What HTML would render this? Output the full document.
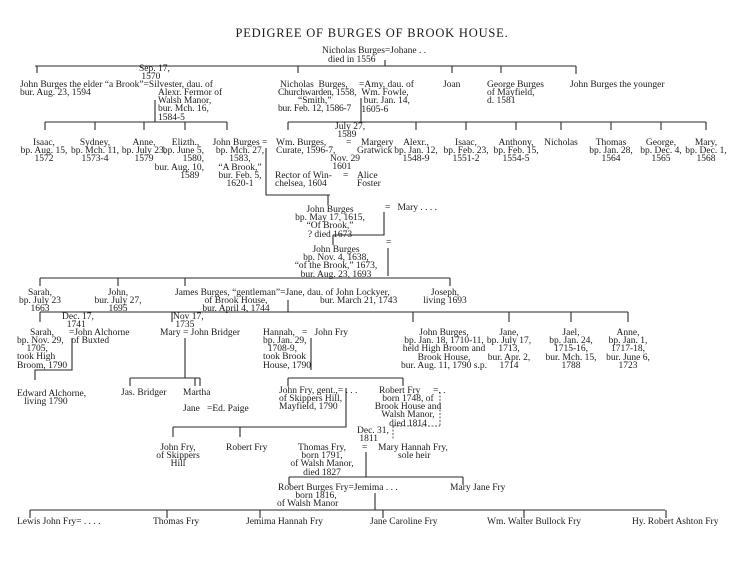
<!DOCTYPE html>
<html><head><meta charset="utf-8"><style>
body{margin:0;background:#fff}
#p{position:relative;width:750px;height:588px;overflow:hidden;background:#fff;font-family:"Liberation Serif",serif;font-size:9.5px;line-height:8.2px;color:#1a1a1a}
.t{position:absolute;white-space:nowrap}
.c{position:absolute;white-space:nowrap;transform:translateX(-50%);text-align:center}
svg{position:absolute;left:0;top:0}
</style></head><body><div id="p">
<svg width="750" height="588" stroke="#2a2a2a" stroke-width="1.1" fill="none">
<path d="M35 66H576M37 66V73M298 66V73M452 66V73M501 66V73M576 66V74M385 60V66"/>
<path d="M45 122H227M45 122V130M95 122V130M144 122V130M185 122V130M227 122V130M155 100V122"/>
<path d="M288 122H706M288 122V130M416 122V130M466 122V130M516 122V130M561 122V130M611 122V130M661 122V130M706 122V130M361 98V122"/>
<path d="M266 148V195H330M328 195V205"/>
<path d="M384 212V235H333M333 235V245M388 248V276"/>
<path d="M40 278H450M40 278V286M118 278V286M185 278V286M450 278V286"/>
<path d="M40 312H628M40 312V322M172 312V322M288 300V312M413 312V322M509 312V322M571 312V322M628 312V322"/>
<path d="M72 338V370H35V380M185 338V378M130 378H200M130 378V386M195 378V386M200 378V386"/>
<path d="M311 338V370M288 378H403M288 378V386M403 378V386"/>
<path d="M346 388V427H173M173 427V437M240 427V437"/>
<path d="M440 392V426M393 426H440M393 426V440" stroke-dasharray="2,1.5" stroke-width="0.8"/>
<path d="M366 452V477M289 477H463M289 477V485M463 477V485"/>
<path d="M375 493V510M30 510H665M30 510V518M167 510V518M260 510V518M383 510V518M524 510V518M666 510V518"/>
</svg>
<div class="c" style="left:372px;top:27px;font-size:12.5px;line-height:13px;letter-spacing:0.8px">PEDIGREE OF BURGES OF BROOK HOUSE.</div>
<div class="t" style="left:322px;top:47px">Nicholas Burges=Johane . .</div>
<div class="t" style="left:328px;top:56px">died in 1556</div>

<div class="t" style="left:139px;top:65px">Sep. 17,<br>&nbsp;1570</div>
<div class="t" style="left:20px;top:81px">John Burges the elder “a Brook”=Silvester, dau. of<br>bur. Aug. 23, 1594</div>
<div class="t" style="left:158px;top:89px">Alexr. Fermor of<br>Walsh Manor,<br>bur. Mch. 16,<br>1584-5</div>
<div class="t" style="left:280px;top:81px">Nicholas&nbsp; Burges,</div>
<div class="t" style="left:278px;top:89px;letter-spacing:-0.2px">Churchwarden, 1558,</div>
<div class="t" style="left:298px;top:97px">“Smith,”</div>
<div class="t" style="left:278px;top:105px;letter-spacing:-0.2px">bur. Feb. 12, 1586-7</div>
<div class="t" style="left:359px;top:81px">=Amy, dau. of<br>&nbsp;Wm. Fowle,<br>&nbsp;&nbsp;bur. Jan. 14,<br>&nbsp;1605-6</div>
<div class="t" style="left:443px;top:81px">Joan</div>
<div class="t" style="left:487px;top:81px">George Burges<br>of Mayfield,<br>d. 1581</div>
<div class="t" style="left:570px;top:81px">John Burges the younger</div>

<div class="c" style="left:44px;top:139px">Isaac,<br>bp. Aug. 15,<br>1572</div>
<div class="c" style="left:95px;top:139px">Sydney,<br>bp. Mch. 11,<br>1573-4</div>
<div class="c" style="left:144px;top:139px">Anne,<br>bp. July 23,<br>1579</div>
<div class="t" style="right:546px;top:139px;text-align:right">Elizth.,&nbsp;&nbsp;<br>bp. June 5,<br>1580,<br>bur. Aug. 10,<br>1589&nbsp;&nbsp;</div>
<div class="c" style="left:240px;top:139px">John Burges =<br>bp. Mch. 27,<br>1583,<br>“A Brook,”<br>bur. Feb. 5,<br>1620-1</div>
<div class="t" style="left:335px;top:123px">July 27,<br>&nbsp;1589</div>
<div class="t" style="left:276px;top:139px">Wm. Burges,<br>Curate, 1596-7,</div>
<div class="t" style="left:346px;top:139px">=</div>
<div class="t" style="left:361px;top:139px">Margery</div>
<div class="t" style="left:357px;top:147px">Gratwick</div>
<div class="t" style="left:330px;top:155px">Nov. 29<br>&nbsp;1601</div>
<div class="t" style="left:275px;top:172px">Rector of Win-<br>chelsea, 1604</div>
<div class="t" style="left:343px;top:172px">=</div>
<div class="t" style="left:357px;top:172px">Alice<br>Foster</div>
<div class="c" style="left:416px;top:139px">Alexr.,<br>bp. Jan. 12,<br>1548-9</div>
<div class="c" style="left:466px;top:139px">Isaac,<br>bp. Feb. 23,<br>1551-2</div>
<div class="c" style="left:516px;top:139px">Anthony,<br>bp. Feb. 15,<br>1554-5</div>
<div class="c" style="left:561px;top:139px">Nicholas</div>
<div class="c" style="left:611px;top:139px">Thomas<br>bp. Jan. 28,<br>1564</div>
<div class="c" style="left:661px;top:139px">George,<br>bp. Dec. 4,<br>1565</div>
<div class="c" style="left:706px;top:139px">Mary,<br>bp. Dec. 1,<br>1568</div>

<div class="c" style="left:330px;top:206px">John Burges<br>bp. May 17, 1615,<br>“Of Brook,”<br>? died 1673</div>
<div class="t" style="left:385px;top:204px">=&nbsp;&nbsp; Mary . . . .</div>
<div class="c" style="left:336px;top:246px">John Burges<br>bp. Nov. 4, 1638,<br>“of the Brook,” 1673,<br>bur. Aug. 23, 1693</div>
<div class="t" style="left:386px;top:239px">=</div>

<div class="c" style="left:40px;top:289px">Sarah,<br>bp. July 23<br>1663</div>
<div class="c" style="left:118px;top:289px">John,<br>bur. July 27,<br>1695</div>
<div class="t" style="left:175px;top:289px">James Burges, “gentleman”=Jane, dau. of John Lockyer,</div>
<div class="c" style="left:236px;top:297px">of Brook House,<br>bur. April 4, 1744</div>
<div class="t" style="left:320px;top:297px">bur. March 21, 1743</div>
<div class="c" style="left:445px;top:289px">Joseph,<br>living 1693</div>

<div class="t" style="left:62px;top:313px">Dec. 17,<br>&nbsp;&nbsp;1741</div>
<div class="t" style="left:30px;top:329px">Sarah,</div>
<div class="t" style="left:17px;top:337px">bp. Nov. 29,<br>&nbsp;&nbsp;&nbsp;&nbsp;1705,<br>took High<br>Broom, 1790</div>
<div class="t" style="left:69px;top:329px">=John Alchorne<br>&nbsp;of Buxted</div>
<div class="t" style="left:173px;top:313px">Nov 17,<br>&nbsp;1735</div>
<div class="t" style="left:160px;top:329px">Mary = John Bridger</div>
<div class="t" style="left:263px;top:329px">Hannah,&nbsp;&nbsp; =&nbsp;&nbsp; John Fry</div>
<div class="t" style="left:263px;top:337px">bp. Jan. 29,<br>&nbsp;&nbsp;1708-9,<br>took Brook<br>House, 1790</div>
<div class="c" style="left:444px;top:329px">John Burges,<br>bp. Jan. 18, 1710-11,<br>held High Broom and<br>Brook House,<br>bur. Aug. 11, 1790 s.p.</div>
<div class="c" style="left:509px;top:329px">Jane,<br>bp. July 17,<br>1713,<br>bur. Apr. 2,<br>1714</div>
<div class="c" style="left:571px;top:329px">Jael,<br>bp. Jan. 24,<br>1715-16,<br>bur. Mch. 15,<br>1788</div>
<div class="c" style="left:628px;top:329px">Anne,<br>bp. Jan. 1,<br>1717-18,<br>bur. June 6,<br>1723</div>

<div class="t" style="left:17px;top:390px">Edward Alchorne,<br>&nbsp;&nbsp;&nbsp;living 1790</div>
<div class="t" style="left:121px;top:389px">Jas. Bridger</div>
<div class="t" style="left:183px;top:389px">Martha</div>
<div class="t" style="left:183px;top:405px">Jane&nbsp;&nbsp; =Ed. Paige</div>
<div class="t" style="left:279px;top:387px">John Fry, gent.,= . . .<br>of Skippers Hill,<br>Mayfield, 1790</div>
<div class="c" style="left:408px;top:387px">Robert Fry&nbsp;&nbsp;&nbsp;&nbsp;&nbsp;&nbsp;&nbsp;</div>
<div class="t" style="left:433px;top:387px">=. .</div>
<div class="c" style="left:408px;top:395px">born 1748, of<br>Brook House and<br>Walsh Manor,<br>died 1814</div>
<div class="t" style="left:357px;top:427px">Dec. 31,<br>&nbsp;1811</div>
<div class="c" style="left:178px;top:444px">John Fry,<br>of Skippers<br>Hill</div>
<div class="t" style="left:226px;top:444px">Robert Fry</div>
<div class="c" style="left:322px;top:444px">Thomas Fry,<br>born 1791,<br>of Walsh Manor,<br>died 1827</div>
<div class="t" style="left:362px;top:444px">=</div>
<div class="t" style="left:378px;top:444px">Mary Hannah Fry,</div>
<div class="t" style="left:398px;top:452px">sole heir</div>
<div class="t" style="left:278px;top:484px">Robert Burges Fry=Jemima . . .</div>
<div class="c" style="left:316px;top:492px">born 1816,</div>
<div class="t" style="left:277px;top:500px">of Walsh Manor</div>
<div class="t" style="left:450px;top:484px">Mary Jane Fry</div>

<div class="t" style="left:17px;top:518px">Lewis John Fry= . . . .</div>
<div class="t" style="left:153px;top:518px">Thomas Fry</div>
<div class="t" style="left:246px;top:518px">Jemima Hannah Fry</div>
<div class="t" style="left:370px;top:518px">Jane Caroline Fry</div>
<div class="t" style="left:487px;top:518px">Wm. Walter Bullock Fry</div>
<div class="t" style="left:632px;top:518px">Hy. Robert Ashton Fry</div>
</div></body></html>
